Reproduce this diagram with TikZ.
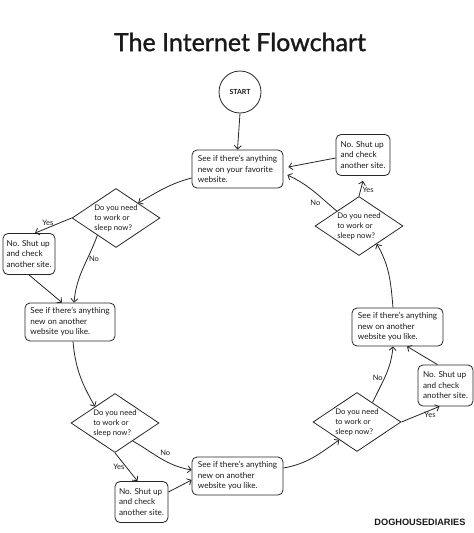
\documentclass[tikz,border=0pt]{standalone}
\usepackage{fontspec}
\setmainfont{Lato}
\newfontfamily\brandfont{Liberation Sans}
\newfontfamily\titlefont[FakeBold=1.2]{Lato}
\usetikzlibrary{shapes.geometric,arrows.meta,calc}
\begin{document}
\begin{tikzpicture}[x=1pt,y=1pt,
  every node/.style={text=black!90},
  txt/.style={font=\fontsize{8.2}{10.5}\selectfont},
  box/.style={txt,draw=black!85,line width=0.8pt,rounded corners=5pt,minimum width=91pt,minimum height=38pt,align=left,inner sep=1pt},
  sbox/.style={txt,draw=black!85,line width=0.8pt,rounded corners=5pt,minimum width=54pt,minimum height=41pt,align=left,inner sep=1pt},
  dia/.style={font=\fontsize{7.7}{10}\selectfont,draw=black!85,line width=0.8pt,diamond,aspect=1.5,minimum width=88pt,minimum height=59pt,align=left,inner sep=-6pt},
  lbl/.style={font=\fontsize{7.5}{8}\selectfont,inner sep=1.5pt},
  arr/.style={draw=black!85,line width=0.8pt,-{Straight Barb[length=3.5pt,width=7pt]}}
]
\useasboundingbox (0,0) rectangle (474,-533);
\node[font=\titlefont\fontsize{25}{27}\selectfont] (title) at (240,-42) {The Internet Flowchart};
\node[circle,draw=black!85,line width=0.8pt,minimum size=42pt,inner sep=0pt,font=\fontsize{7}{7}\selectfont\bfseries] (start) at (240,-92) {START};
\node[box] (b1) at (237.5,-169) {See if there's anything\\new on your favorite\\website.};
\node[sbox] (rtb) at (363,-155) {No. Shut up\\and check\\another site.};
\node[dia] (d4) at (359,-226) {Do you need\\to work or\\sleep now?};
\node[dia] (d1) at (116,-218) {Do you need\\to work or\\sleep now?};
\node[sbox,minimum width=52pt] (lb) at (29,-254) {No. Shut up\\and check\\another site.};
\node[box,minimum width=90pt] (b2) at (70,-322) {See if there's anything\\new on another\\website you like.};
\node[dia] (d2) at (115,-423) {Do you need\\to work or\\sleep now?};
\node[sbox,minimum width=53pt] (sb) at (141.5,-502) {No. Shut up\\and check\\another site.};
\node[box] (b3) at (237.5,-476) {See if there's anything\\new on another\\website you like.};
\node[dia] (d3) at (357,-422) {Do you need\\to work or\\sleep now?};
\node[sbox,minimum width=55pt] (rb) at (445.5,-385.5) {No. Shut up\\and check\\another site.};
\node[box] (b4) at (397.5,-327) {See if there's anything\\new on another\\website you like.};
\node[font=\brandfont\bfseries\fontsize{9.2}{10}\selectfont,anchor=east] (brand) at (469,-522) {DOGHOUSEDIARIES};

\draw[arr] (start.south) -- (b1.north);
\draw[arr] ([yshift=-9pt]b1.west) to[out=195,in=30] (d1.north east);
\draw[arr] (d1.west) -- node[lbl,pos=0.65,above] {Yes} ([xshift=6pt]lb.north);
\draw[arr] ($(d1.south)!0.42!(d1.west)$) to[out=250,in=85] node[lbl,pos=0.35,right] {No} ([xshift=4pt]b2.north);
\draw[arr] (lb.south) -- ([xshift=-8pt]b2.north);
\draw[arr] ([xshift=3pt]b2.south) to[out=-85,in=120] ($(d2.north)!0.45!(d2.west)$);
\draw[arr] ($(d2.south)!0.4!(d2.east)$) to[out=-30,in=170] node[lbl,pos=0.45,above right] {No} ([yshift=6pt]b3.west);
\draw[arr] (d2.south) -- node[lbl,pos=0.5,left] {Yes} ([xshift=-4pt]sb.north);
\draw[arr] ([yshift=10pt]sb.east) -- ([yshift=-4pt]b3.west);
\draw[arr] ([yshift=8pt]b3.east) to[out=10,in=215] ($(d3.south)!0.4!(d3.west)$);
\draw[arr] (d3.east) -- node[lbl,pos=0.75,below] {Yes} ([xshift=-6pt]rb.south);
\draw[arr] ([xshift=-8pt]rb.north) -- ([xshift=9.5pt]b4.south);
\draw[arr] ($(d3.north)!0.35!(d3.east)$) to[out=65,in=-95] node[lbl,pos=0.45,left] {No} ([xshift=-4.5pt]b4.south);
\draw[arr] ([xshift=-4.5pt]b4.north) to[out=95,in=-60] ($(d4.south)!0.4!(d4.east)$);
\draw[arr] (d4.north) -- node[lbl,pos=0.4,right] {Yes} ([yshift=-5pt]rtb.south);
\draw[arr] ([yshift=-3pt]rtb.west) -- ([xshift=5pt,yshift=2pt]b1.east);
\draw[arr] ($(d4.north)!0.5!(d4.west)$) to[out=140,in=-25] node[lbl,pos=0.3,below left] {No} ([xshift=4pt,yshift=-6pt]b1.east);
\end{tikzpicture}
\end{document}
